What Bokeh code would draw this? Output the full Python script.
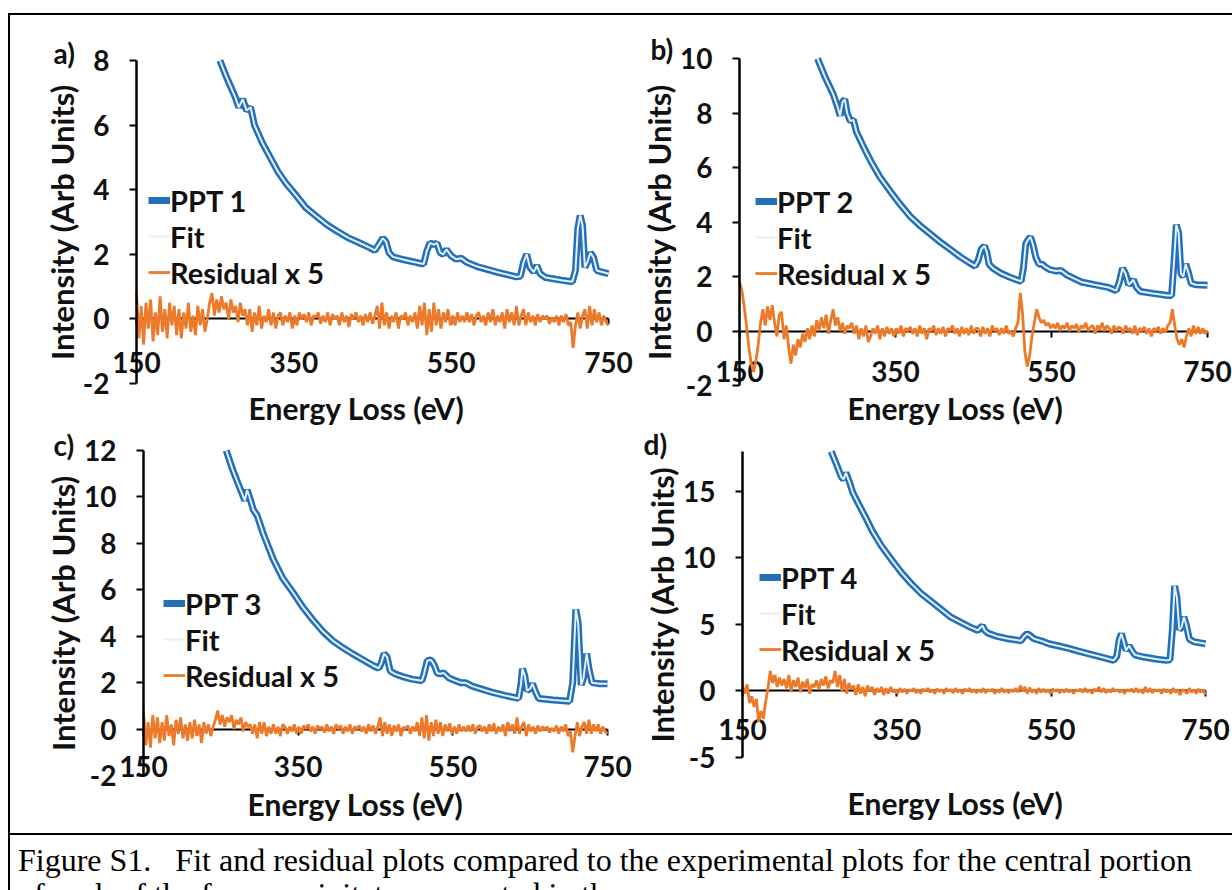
from bokeh.plotting import figure
from bokeh.layouts import row, column
from bokeh.models import (Div, Spacer, Legend, LegendItem, FixedTicker, Label,
                          Range1d, PrintfTickFormatter)
from bokeh.embed import file_html
from bokeh.resources import INLINE

# ---------------------------------------------------------------- data
# energy grid of the residual traces (eV)
res_energy = list(range(150, 751, 3))

# PPT 1 (trace starts where it enters the top of the intensity axis)
ppt1_e = [256, 265, 275, 280, 285, 290, 295, 300, 310, 320, 330, 340, 352, 365, 380, 393,
          406, 420, 431, 445, 453, 458, 463, 467, 471, 476, 490, 507, 515, 519, 523, 528, 532, 536,
          540, 544, 550, 556, 563, 570, 583, 608, 633, 638, 642, 646, 650, 655, 659, 663, 670, 690,
          704, 708, 711, 714, 717, 720, 723, 727, 731, 735, 742, 750]
ppt1_i = [8.0, 7.45, 6.9, 6.55, 6.8, 6.45, 6.55, 6.0, 5.45, 5.0, 4.55, 4.2, 3.85, 3.45, 3.15, 2.9,
          2.7, 2.5, 2.38, 2.22, 2.12, 2.3, 2.5, 2.4, 2.05, 1.92, 1.83, 1.74, 1.7, 2.1, 2.35, 2.3, 2.35, 2.05,
          2.0, 2.15, 1.95, 1.85, 1.88, 1.75, 1.62, 1.45, 1.3, 1.32, 1.75, 2.0, 1.6, 1.45, 1.65, 1.4, 1.28, 1.2,
          1.15, 1.5, 2.8, 3.2, 2.9, 1.6, 1.75, 2.05, 1.9, 1.5, 1.45, 1.4]
fit1_i = ppt1_i
res1 = [0.8, -0.6, 0.4, -0.8, 0.5, -0.3, 0.6, -0.7, 0.2, -0.5, 0.7, -0.4, 0.3, -0.6, 0.5, -0.2, 0.4, -0.5,
        0.3, -0.6, 0.2, -0.3, 0.5, -0.4, 0.1, -0.5, 0.4, -0.2, 0.3, -0.4, 0.0,
        0.5, 0.8, 0.1, 0.6, 0.2, 0.7, 0.3, 0.5, 0.0, 0.6, 0.2, 0.4, -0.1, 0.5, 0.1, 0.3, -0.2,
        0.3, -0.4, 0.2, -0.2, 0.4, -0.3, 0.1, -0.1, 0.3, -0.2, 0.2, -0.3, 0.1, 0.2, -0.2, 0.1, -0.1, 0.2, -0.3,
        0.1, -0.2, 0.2, 0.0, 0.15, -0.1, 0.2, -0.2, 0.1, 0.05, 0.2, -0.15, 0.1, -0.1, 0.2, -0.2, 0.15, 0.0,
        0.1, -0.2, 0.2, -0.1, 0.1, -0.25, 0.15, 0.0, 0.2, -0.1, 0.1, -0.2, 0.15, -0.1, 0.2, -0.15, 0.1,
        0.4, -0.3, 0.5, -0.2, 0.2, -0.3, 0.1, -0.1, 0.2, -0.3, 0.1, 0.0, 0.2, -0.2, 0.1, -0.1,
        0.2, -0.3, 0.4, -0.2, 0.5, -0.5, 0.3, -0.4, 0.5, -0.2, 0.3, -0.3, 0.2, -0.1, 0.3, -0.2, 0.1, -0.2, 0.2, -0.1, 0.1,
        -0.1, 0.2, -0.1, 0.15, -0.2, 0.1, 0.2, -0.1, 0.1, -0.2, 0.2, -0.1, 0.3, -0.2, 0.1, -0.1, 0.2, -0.3, 0.3, -0.1,
        0.2, -0.2, 0.4, -0.2, 0.1,
        0.3, -0.2, 0.2, -0.1, 0.1, -0.2, 0.15, -0.1, 0.1, 0.0, 0.1, -0.15, 0.05, -0.1, 0.1, -0.2, 0.1, -0.1, 0.15, -0.2, -0.1,
        -0.9, -0.2, 0.2, -0.3, 0.1, 0.3, -0.3, 0.4, -0.2, 0.3, -0.1, 0.2, -0.2, 0.1, -0.1, -0.2]

# PPT 2
ppt2_e = [250, 260, 270, 276, 279, 282, 285, 288, 292, 296, 300, 310, 318, 330, 344, 356,
          369, 382, 395, 408, 420, 433, 445, 452, 456, 460, 464, 467, 470, 475, 485, 496, 505, 511,
          514, 517, 520, 523, 526, 530, 534, 538, 542, 548, 556, 562, 570, 588, 605, 623, 633, 637,
          641, 645, 649, 652, 655, 659, 664, 680, 699, 704, 707, 710, 713, 716, 719, 722, 725, 729,
          735, 750]
ppt2_i = [10.0, 9.3, 8.7, 8.2, 7.9, 8.4, 8.5, 8.0, 7.7, 7.75, 7.3, 6.7, 6.25, 5.65, 5.1, 4.65,
          4.2, 3.85, 3.55, 3.25, 3.0, 2.72, 2.5, 2.38, 2.6, 3.0, 3.12, 2.9, 2.45, 2.3, 2.12, 1.98, 1.88, 1.82,
          2.3, 3.2, 3.35, 3.45, 3.2, 2.7, 2.45, 2.45, 2.35, 2.25, 2.2, 2.22, 2.05, 1.8, 1.7, 1.6, 1.48, 1.8,
          2.3, 2.1, 1.7, 1.78, 1.88, 1.6, 1.45, 1.38, 1.3, 1.3, 2.5, 3.9, 3.6, 2.1, 2.0, 2.45, 2.2, 1.75,
          1.7, 1.68]
fit2_i = ppt2_i
res2 = [1.8, 1.5, 0.9, 0.2, -0.6, -1.2, -1.5, -1.1, -0.5, 0.3, 0.8, 0.2, 0.9, 0.4, 0.95, 0.3, -0.2, 0.6,
        0.7, -0.3, 0.2, -0.6, -1.2, -0.5, -0.9, -0.3, -0.6, -0.1, -0.4, 0.1, -0.3,
        0.2, -0.2, 0.4, 0.0, 0.5, 0.1, 0.6, -0.1, 0.4, 0.8, 0.2, 0.5, 0.0, 0.3, -0.1, 0.2, 0.1,
        0.3, -0.1, 0.2, -0.3, 0.1, -0.2, 0.2, -0.4, -0.2, 0.1, -0.1, 0.2, -0.3, 0.1, -0.2, 0.15, -0.1, 0.1, -0.2,
        0.1, -0.1, 0.2, -0.2, 0.1, 0.0, 0.15, -0.1, 0.1, -0.2, 0.2, -0.1, 0.1, -0.3, 0.1, 0.0, 0.2, -0.15,
        0.1, -0.1, 0.15, -0.2, 0.1, 0.0, 0.2, -0.1, 0.1, -0.2, 0.15, -0.1, 0.1, -0.15, 0.2, -0.1, 0.1,
        0.1, -0.2, 0.15, -0.1, 0.1, -0.2, 0.2, 0.0, 0.1, -0.15, 0.1, -0.1, 0.2, -0.1, 0.0, -0.2,
        0.1, 0.3, 1.4, 0.6, -0.8, -1.3, -0.9, -0.2, 0.3, 0.8, 0.5, 0.3, 0.4, 0.2, 0.3, 0.1, 0.25, 0.1, 0.3, 0.0, 0.2,
        0.1, 0.3, 0.0, 0.2, 0.1, 0.25, -0.05, 0.2, 0.1, 0.3, 0.0, 0.15, 0.2, -0.1, 0.2, 0.05, 0.3, 0.0, 0.2, 0.1,
        -0.1, 0.2, 0.0, 0.15, 0.1,
        -0.1, 0.2, 0.0, 0.1, -0.1, 0.2, -0.15, 0.1, 0.0, 0.15, -0.1, 0.1, -0.2, 0.1, 0.0, 0.15, -0.1, 0.1, -0.05, 0.2, 0.3,
        0.8, 0.2, -0.3, -0.5, -0.3, -0.6, -0.2, 0.1, -0.2, 0.2, -0.1, 0.15, -0.1, 0.1, -0.1, 0.0]

# PPT 3
ppt3_e = [257, 265, 272, 278, 281, 284, 288, 292, 297, 305, 318, 330, 344, 356, 369, 382,
          395, 408, 420, 433, 446, 454, 457, 461, 465, 469, 475, 486, 497, 510, 513, 517, 522, 526,
          530, 534, 538, 545, 552, 560, 566, 575, 599, 617, 635, 638, 640, 643, 646, 650, 653, 657,
          661, 680, 701, 705, 709, 712, 716, 719, 723, 726, 730, 740, 750]
ppt3_i = [12.0, 11.2, 10.6, 10.1, 9.85, 10.3, 9.9, 9.45, 9.2, 8.4, 7.3, 6.5, 5.85, 5.25, 4.7, 4.2,
          3.8, 3.5, 3.25, 3.0, 2.75, 2.62, 2.8, 3.25, 3.1, 2.5, 2.38, 2.25, 2.15, 2.08, 2.4, 2.95, 2.98, 2.75,
          2.4, 2.38, 2.42, 2.2, 2.1, 2.0, 2.0, 1.85, 1.6, 1.45, 1.32, 1.9, 2.6, 2.3, 1.65, 1.75, 1.95, 1.6,
          1.32, 1.25, 1.2, 2.0, 5.15, 4.6, 1.9, 2.2, 3.25, 2.6, 2.0, 1.95, 1.95]
fit3_i = ppt3_i
res3 = [0.8, -0.7, 0.3, -0.8, 0.6, -0.4, 0.5, -0.6, 0.3, -0.5, 0.6, -0.3, 0.2, -0.7, 0.4, -0.2, 0.5, -0.4,
        0.2, -0.5, 0.3, -0.4, 0.4, -0.3, 0.2, -0.6, 0.3, -0.2, 0.2, -0.3, 0.1,
        0.4, 0.8, 0.2, 0.6, 0.1, 0.5, 0.3, 0.6, 0.0, 0.4, 0.2, 0.5, -0.1, 0.3, 0.1, 0.2, -0.2,
        0.2, -0.4, 0.3, -0.2, 0.3, -0.3, 0.1, -0.2, 0.2, -0.2, 0.1, -0.3, 0.2, 0.1, -0.2, 0.1, -0.1, 0.2, -0.2,
        0.1, -0.2, 0.15, 0.0, 0.2, -0.1, 0.1, -0.2, 0.15, 0.0, 0.1, -0.15, 0.2, -0.1, 0.1, -0.2, 0.2, 0.0,
        0.15, -0.2, 0.1, -0.1, 0.2, -0.2, 0.1, 0.0, 0.15, -0.1, 0.1, -0.2, 0.2, -0.1, 0.15, -0.2, 0.1,
        0.5, -0.3, 0.3, -0.2, 0.2, -0.3, 0.15, -0.1, 0.2, -0.3, 0.1, 0.0, 0.15, -0.2, 0.1, -0.1,
        0.3, -0.3, 0.5, -0.4, 0.6, -0.5, 0.3, -0.3, 0.4, -0.2, 0.3, -0.3, 0.2, -0.1, 0.25, -0.2, 0.1, -0.2, 0.2, -0.1, 0.1,
        -0.1, 0.15, -0.1, 0.2, -0.2, 0.1, 0.15, -0.1, 0.1, -0.2, 0.2, -0.1, 0.25, -0.2, 0.1, -0.1, 0.2, -0.3, 0.3, -0.1,
        0.2, -0.2, 0.5, -0.2, 0.1,
        0.3, -0.3, 0.2, -0.1, 0.1, -0.2, 0.15, -0.1, 0.1, 0.0, 0.1, -0.15, 0.05, -0.1, 0.15, -0.2, 0.1, -0.1, 0.2, -0.3, -0.1,
        -1.0, -0.3, 0.3, -0.3, 0.1, 0.3, -0.2, 0.4, -0.2, 0.2, -0.1, 0.2, -0.2, 0.1, -0.1, -0.2]

# PPT 4
ppt4_e = [265, 272, 278, 281, 284, 288, 293, 300, 310, 318, 330, 344, 356, 369, 382, 395,
          408, 420, 433, 445, 455, 458, 461, 464, 468, 480, 496, 511, 515, 519, 523, 527, 532, 538,
          547, 560, 573, 585, 598, 615, 631, 635, 638, 641, 644, 647, 651, 655, 659, 670, 685, 699,
          704, 707, 710, 713, 716, 719, 722, 725, 729, 735, 745, 750]
ppt4_i = [18.0, 17.0, 16.1, 15.9, 16.4, 15.8, 14.9, 14.1, 13.0, 12.05, 10.9, 9.8, 8.9, 8.05, 7.3, 6.7,
          6.1, 5.55, 5.15, 4.8, 4.55, 4.75, 4.9, 4.55, 4.35, 4.1, 3.9, 3.78, 4.1, 4.3, 4.15, 3.95, 3.85, 3.75,
          3.55, 3.38, 3.2, 3.0, 2.8, 2.55, 2.3, 2.6, 3.8, 4.3, 3.7, 3.05, 3.4, 3.0, 2.7, 2.55, 2.4, 2.3,
          2.35, 4.5, 7.9, 7.0, 4.6, 4.8, 5.55, 5.0, 3.9, 3.7, 3.6, 3.55]
fit4_i = ppt4_i
res4 = [0.4, -0.2, 0.5, -0.9, -0.4, -1.2, -0.6, -2.3, -1.5, -2.1, -0.8, 0.2, 1.5, 0.6, 1.2, 0.3, 1.0, 0.4,
        0.9, 0.2, 1.2, 0.0, 0.8, 0.3, 1.0, -0.1, 0.7, 0.2, 0.9, -0.2, 0.5,
        0.3, 0.8, 0.1, 0.9, 0.4, 1.1, 0.2, 0.8, 0.6, 1.5, 0.3, 1.2, 0.0, 0.9, -0.2, 0.6, 0.1,
        0.4, -0.3, 0.5, -0.2, 0.3, -0.4, 0.4, 0.0, 0.3, -0.3, 0.2, -0.1, 0.3, -0.3, 0.2, -0.2, 0.3, -0.1, 0.1,
        -0.2, 0.2, -0.1, 0.15, -0.2, 0.1, 0.0, 0.2, -0.15, 0.1, -0.2, 0.15, 0.0, 0.2, -0.1, 0.1, -0.2, 0.15,
        -0.05, 0.1, -0.2, 0.2, 0.0, 0.1, -0.15, 0.2, -0.1, 0.1, -0.2, 0.15, 0.0, 0.2, -0.1, 0.1, -0.15,
        0.1, -0.1, 0.2, -0.15, 0.1, 0.0, 0.15, -0.2, 0.1, -0.1, 0.2, -0.1, 0.1, -0.15, 0.1, -0.05,
        0.2, -0.1, 0.4, 0.0, 0.3, -0.2, 0.25, -0.1, 0.1, -0.2, 0.2, -0.1, 0.15, -0.1, 0.1, -0.2, 0.15, 0.0, 0.1, -0.15, 0.1,
        -0.1, 0.15, -0.1, 0.1, -0.2, 0.1, 0.0, 0.15, -0.1, 0.2, -0.1, 0.1, -0.2, 0.15, 0.0, 0.3, -0.1, 0.2, -0.15, 0.1,
        -0.1, 0.2, 0.0, 0.1, -0.1,
        0.1, -0.2, 0.1, 0.0, 0.15, -0.1, 0.2, -0.1, 0.1, -0.2, 0.3, -0.1, 0.2, -0.15, 0.1, 0.0, 0.1, -0.2, 0.15, -0.1, 0.1,
        -0.2, 0.2, -0.1, 0.1, -0.3, 0.1, 0.0, -0.2, 0.2, -0.1, 0.1, -0.2, 0.15, -0.1, 0.1, -0.3]

x_ticks = [150, 350, 550, 750]
x_lo, x_hi = 150, 750
series_names = ["PPT 1", "PPT 2", "PPT 3", "PPT 4"]
panel_letters = ["a)", "b)", "c)", "d)"]
x_title = "Energy Loss (eV)"
y_title = "Intensity (Arb Units)"
caption_text = ("Figure S1.&nbsp;&nbsp; Fit and residual plots compared to the experimental plots "
                "for the central portion<br>of each of the four precipitates presented in the paper.")

# ---------------------------------------------------------------- style
BLUE = "#2170b8"
FIT = "#e6effa"
ORANGE = "#ec7a2a"
INK = "#111111"
FONT = "Lato"


def panel(name, letter, e_exp, i_exp, i_fit, res, y_lo, y_hi, y_ticks,
          box, axes_px, legend_xy, letter_xy, xlab_standoff, xtitle_xy):
    """box: figure position on the page (x0, y0, x1, y1);
    axes_px: page pixels of x_lo, x_hi, y_hi, y_lo."""
    fx0, fy0, fx1, fy1 = box
    px_lo, px_hi, py_hi, py_lo = axes_px
    sx = (px_hi - px_lo) / (x_hi - x_lo)
    sy = (py_lo - py_hi) / (y_hi - y_lo)
    xr = Range1d(x_lo - (px_lo - fx0) / sx, x_hi + (fx1 - px_hi) / sx)
    yr = Range1d(y_lo - (fy1 - py_lo) / sy, y_hi + (py_hi - fy0) / sy)

    p = figure(width=fx1 - fx0, height=fy1 - fy0, x_range=xr, y_range=yr,
               output_backend="svg", toolbar_location=None, min_border=0,
               outline_line_color=None, background_fill_color="white",
               border_fill_color="white", frame_align=False)
    p.grid.visible = False

    r_exp = p.line(e_exp, i_exp, line_color=BLUE, line_width=7)
    r_fit = p.line(e_exp, i_fit, line_color=FIT, line_width=2)
    r_res = p.line(res_energy, res, line_color=ORANGE, line_width=2.8)

    xa = p.xaxis[0]
    xa.fixed_location = 0
    xa.bounds = (x_lo, x_hi)
    xa.level = "underlay"
    xa.ticker = FixedTicker(ticks=x_ticks, minor_ticks=[])
    xa.axis_line_width = 2
    xa.axis_line_color = "black"
    xa.major_tick_line_width = 2
    xa.major_tick_line_color = "black"
    xa.major_tick_out = 6
    xa.major_tick_in = 0
    xa.minor_tick_line_color = None
    xa.major_label_standoff = xlab_standoff

    ya = p.yaxis[0]
    ya.fixed_location = x_lo
    ya.bounds = (y_lo, y_hi)
    ya.ticker = FixedTicker(ticks=y_ticks, minor_ticks=[])
    ya.formatter = PrintfTickFormatter(format="%d")
    ya.axis_line_width = 2.5
    ya.axis_line_color = "black"
    ya.major_tick_line_width = 2
    ya.major_tick_out = 7
    ya.major_tick_in = 0
    ya.minor_tick_line_color = None
    ya.major_label_standoff = 20
    ya.axis_label = y_title
    ya.axis_label_standoff = -1

    for ax in (xa, ya):
        ax.major_label_text_font = FONT
        ax.major_label_text_font_size = "28px"
        ax.major_label_text_font_style = "bold"
        ax.major_label_text_color = INK
        ax.axis_label_text_font = FONT
        ax.axis_label_text_font_size = "31px"
        ax.axis_label_text_font_style = "bold"
        ax.axis_label_text_color = INK

    legend = Legend(items=[LegendItem(label=name, renderers=[r_exp]),
                           LegendItem(label="Fit", renderers=[r_fit]),
                           LegendItem(label="Residual x 5", renderers=[r_res])],
                    location=legend_xy, orientation="vertical",
                    padding=0, margin=0, spacing=0, label_standoff=0,
                    glyph_width=22, glyph_height=36, label_height=36,
                    border_line_color=None, background_fill_alpha=0,
                    label_text_font=FONT, label_text_font_size="29px",
                    label_text_font_style="bold", label_text_color=INK)
    p.add_layout(legend)

    # panel letter and energy axis title, in pixels from the figure's bottom-left
    p.add_layout(Label(x=letter_xy[0], y=letter_xy[1], x_units="screen",
                       y_units="screen", text=letter, text_font=FONT,
                       text_font_size="28px", text_font_style="bold",
                       text_color=INK, text_baseline="middle",
                       text_align="left"))
    p.add_layout(Label(x=xtitle_xy[0], y=xtitle_xy[1], x_units="screen",
                       y_units="screen", text=x_title, text_font=FONT,
                       text_font_size="30px", text_font_style="bold",
                       text_color=INK, text_baseline="middle",
                       text_align="center"))
    return p


pa = panel(series_names[0], panel_letters[0], ppt1_e, ppt1_i, fit1_i, res1,
           -2, 8, [-2, 0, 2, 4, 6, 8], (10, 15, 640, 426), (136, 608, 60, 383),
           (138, 136), (43, 374), 27, (346, 19))
pb = panel(series_names[1], panel_letters[1], ppt2_e, ppt2_i, fit2_i, res2,
           -2, 10, [-2, 0, 2, 4, 6, 8, 10], (640, 15, 1232, 426), (739, 1207, 58, 385),
           (115, 135), (10, 378), 24, (315, 19))
pc = panel(series_names[2], panel_letters[2], ppt3_e, ppt3_i, fit3_i, res3,
           -2, 12, [-2, 0, 2, 4, 6, 8, 10, 12], (10, 426, 640, 833), (143, 607, 450, 775),
           (153, 140), (43, 389), 21, (345, 30))
pd = panel(series_names[3], panel_letters[3], ppt4_e, ppt4_i, fit4_i, res4,
           -5, 18, [-5, 0, 5, 10, 15], (640, 426, 1232, 833), (742, 1205, 451, 757),
           (119, 166), (3, 390), 22, (315, 31))


def rule(w, h):
    return Div(width=w, height=h, margin=0,
               styles={"background-color": "#000000"})


caption = Div(text=caption_text, width=1222, height=55, margin=0,
              styles={"font-family": "'Liberation Serif', 'Times New Roman', serif",
                      "font-size": "32px", "line-height": "34px",
                      "color": "#000000", "padding": "8px 0 0 8px",
                      "white-space": "nowrap", "overflow": "hidden",
                      "box-sizing": "border-box"})

inner = column(rule(1222, 2), row(pa, pb), row(pc, pd), rule(1222, 2), caption,
               spacing=0)
root = column(Spacer(width=1232, height=13),
              row(Spacer(width=8, height=877), rule(2, 877), inner, spacing=0),
              spacing=0)

with open("out.html", "w") as fh:
    fh.write(file_html(root, INLINE))
